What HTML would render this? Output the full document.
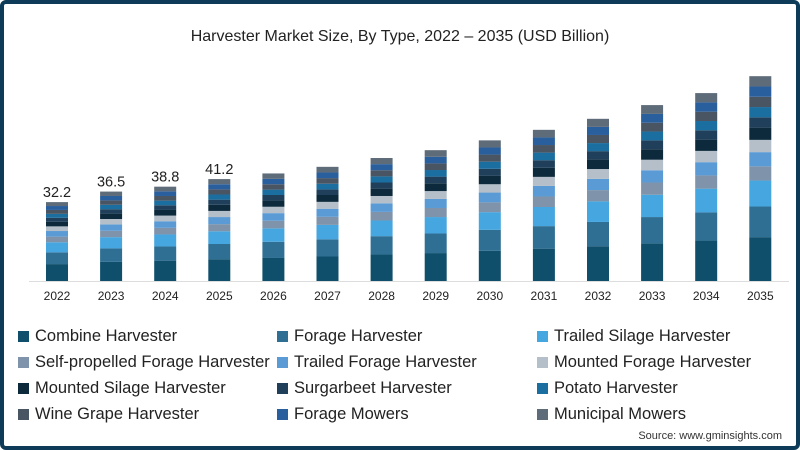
<!DOCTYPE html>
<html><head><meta charset="utf-8"><style>
body{margin:0;background:#fff;}
#wrap{position:relative;width:800px;height:450px;box-sizing:border-box;border:4px solid #0d3b58;border-radius:6px;overflow:hidden;font-family:"Liberation Sans",sans-serif;background:#fff;}
.title{position:absolute;top:24px;left:0;width:792px;text-align:center;font-size:16px;color:#222;}
.leg{position:absolute;font-size:16.5px;color:#222;white-space:nowrap;}
.leg span.sw{display:inline-block;width:11px;height:11px;margin-right:6px;vertical-align:-1px;}
.src{position:absolute;right:14px;top:426px;font-size:11px;color:#333;}
</style></head><body>
<div id="wrap">
<div class="title">Harvester Market Size, By Type, 2022 – 2035 (USD Billion)</div>
<svg id="chart" width="792" height="320" style="position:absolute;left:0;top:0"></svg>
<div id="legend"></div>
<div class="src">Source: www.gminsights.com</div>
</div>
<script>
const years=["2022","2023","2024","2025","2026","2027","2028","2029","2030","2031","2032","2033","2034","2035"];
const totals=[32.2,36.5,38.8,41.2,null,null,null,null,null,null,null,null,null,null];
const seriesNames=["Combine Harvester","Forage Harvester","Trailed Silage Harvester","Self-propelled Forage Harvester","Trailed Forage Harvester","Mounted Forage Harvester","Mounted Silage Harvester","Surgarbeet Harvester","Potato Harvester","Wine Grape Harvester","Forage Mowers","Municipal Mowers"];
const colors=["#0f4f6c","#2f6f94","#45a6e0","#7f93aa","#5b9bd5","#b4bfca","#0d2a3c","#1f3f5a","#1a6ea0","#4a5563","#2a5f9e","#5e6b78"];
const combine=[6.9,7.8,8.3,8.9,9.4,10.0,10.8,11.4,12.3,13.2,14.2,15.4,16.5,17.9];
const forage=[4.8,5.5,5.8,6.2,6.6,7.0,7.5,8.0,8.6,9.2,9.9,10.7,11.5,12.5];
const trailedSilage=[4.1,4.6,4.9,5.2,5.5,5.9,6.4,6.7,7.2,7.8,8.4,9.1,9.7,10.6];
const selfPropelled=[2.3,2.6,2.7,2.9,3.1,3.3,3.5,3.7,4.0,4.3,4.6,5.0,5.4,5.8];
const trailedForage=[2.3,2.6,2.7,2.9,3.1,3.3,3.5,3.7,4.0,4.3,4.6,5.0,5.4,5.8];
const mountedForage=[1.9,2.2,2.3,2.5,2.6,2.8,3.0,3.2,3.4,3.7,4.0,4.3,4.6,5.0];
const mountedSilage=[1.9,2.2,2.3,2.5,2.6,2.8,3.0,3.2,3.4,3.7,4.0,4.3,4.6,5.0];
const sugarbeet=[1.6,1.8,1.9,2.1,2.2,2.3,2.5,2.7,2.9,3.1,3.3,3.6,3.8,4.2];
const potato=[1.6,1.8,1.9,2.1,2.2,2.3,2.5,2.7,2.9,3.1,3.3,3.6,3.8,4.2];
const wineGrape=[1.6,1.8,1.9,2.1,2.2,2.3,2.5,2.7,2.9,3.1,3.3,3.6,3.8,4.2];
const forageMowers=[1.6,1.8,1.9,2.1,2.2,2.3,2.5,2.7,2.9,3.1,3.3,3.6,3.8,4.2];
const municipalMowers=[1.6,1.8,1.9,2.1,2.2,2.3,2.5,2.7,2.9,3.1,3.3,3.6,3.8,4.2];
const series=[combine,forage,trailedSilage,selfPropelled,trailedForage,mountedForage,mountedSilage,sugarbeet,potato,wineGrape,forageMowers,municipalMowers];

const NS="http://www.w3.org/2000/svg";
const svg=document.getElementById('chart');
const base=277, scale=2.45, x0=53, step=54.1, bw=22;
const xPos=i=>x0+i*step;
const yPos=v=>base-v*scale;
let ax=document.createElementNS(NS,'line');
ax.setAttribute('x1',25);ax.setAttribute('x2',785);ax.setAttribute('y1',base+0.5);ax.setAttribute('y2',base+0.5);
ax.setAttribute('stroke','#ddd');


svg.appendChild(ax);
years.forEach((yr,i)=>{
  let cum=0;
  series.forEach((s,k)=>{
    const r=document.createElementNS(NS,'rect');
    const y1=yPos(cum+s[i]), y0=yPos(cum);
    r.setAttribute('x',xPos(i)-bw/2);r.setAttribute('y',y1);r.setAttribute('width',bw);r.setAttribute('height',y0-y1);
    r.setAttribute('fill',colors[k]);
    
    
    svg.appendChild(r);
    cum+=s[i];
  });
  const t=document.createElementNS(NS,'text');
  t.setAttribute('x',xPos(i));t.setAttribute('y',296);t.setAttribute('text-anchor','middle');
  t.setAttribute('font-size','12');t.setAttribute('fill','#222');t.textContent=yr;
  
  
  svg.appendChild(t);
  if(totals[i]!==null){
    const l=document.createElementNS(NS,'text');
    l.setAttribute('x',xPos(i));l.setAttribute('y',yPos(cum)-5);l.setAttribute('text-anchor','middle');
    l.setAttribute('font-size','14.5');l.setAttribute('fill','#222');l.textContent=totals[i].toFixed(1);
    
    
    svg.appendChild(l);
  }
});
const leg=document.getElementById('legend');
const colX=[14,273,533];
seriesNames.forEach((n,k)=>{
  const d=document.createElement('div');
  d.className='leg';
  d.style.left=colX[k%3]+'px';
  d.style.top=(323+Math.floor(k/3)*26)+'px';
  d.innerHTML='<span class="sw" style="background:'+colors[k]+'"></span>'+n;
  
  
  leg.appendChild(d);
});
</script>
</body></html>
